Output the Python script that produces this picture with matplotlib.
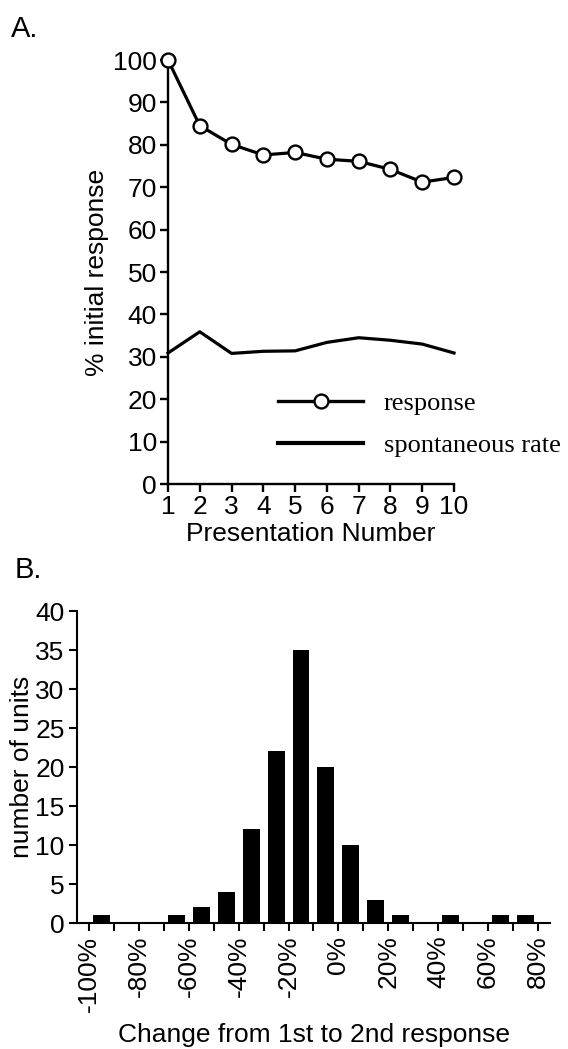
import matplotlib
matplotlib.use("Agg")
import matplotlib.pyplot as plt
import numpy as np
from matplotlib.lines import Line2D

plt.rcParams['font.family'] = ['Liberation Sans', 'DejaVu Sans']
plt.rcParams['font.size'] = 19

# panel A: habituation over presentations
presentation = [1, 2, 3, 4, 5, 6, 7, 8, 9, 10]
response = [100, 84.5, 80.1, 77.6, 78.2, 76.6, 76.1, 74.2, 71.2, 72.3]
spontaneous = [30.9, 35.9, 30.8, 31.3, 31.4, 33.4, 34.5, 33.9, 33.0, 30.9]

# panel B: histogram of change from 1st to 2nd response (10% bins)
bin_left = [-100, -90, -80, -70, -60, -50, -40, -30, -20, -10, 0, 10, 20, 30, 40, 50, 60, 70]
counts = [1, 0, 0, 1, 2, 4, 12, 22, 35, 20, 10, 3, 1, 0, 1, 0, 1, 1]
b_ticks = [-100, -80, -60, -40, -20, 0, 20, 40, 60, 80]
b_tick_labels = ['-100%', '-80%', '-60%', '-40%', '-20%', '0%', '20%', '40%', '60%', '80%']

fig = plt.figure(figsize=(5.68, 10.49), dpi=100)

# ---- A ----
axA = fig.add_axes([0.2958, 0.5386, 0.5035, 0.4042])
axA.plot(presentation, response, color='black', lw=2.3, marker='o', ms=10,
         mfc='white', mec='black', mew=1.7, clip_on=False, zorder=5)
axA.plot(presentation, spontaneous, color='black', lw=2.3, clip_on=False)
axA.set_xlim(1, 10)
axA.set_ylim(0, 100)
axA.set_xticks(presentation)
axA.set_yticks(np.arange(0, 101, 10))
for s in ['top', 'right']:
    axA.spines[s].set_visible(False)
for s in ['left', 'bottom']:
    axA.spines[s].set_linewidth(1.7)
axA.tick_params(direction='out', length=6, width=1.7, pad=2)
axA.set_ylabel('% initial response', labelpad=3)
axA.set_xlabel('Presentation Number', labelpad=2)

handles = [Line2D([], [], color='black', lw=2.4, marker='o', ms=10,
                  mfc='white', mec='black', mew=1.7),
           Line2D([], [], color='black', lw=3)]
axA.legend(handles, ['response', 'spontaneous rate'], loc='center left',
           bbox_to_anchor=(4.47, 14), bbox_transform=axA.transData,
           frameon=False, borderpad=0, borderaxespad=0, handlelength=3.2,
           handletextpad=0.8, labelspacing=0.7, numpoints=1,
           prop={'family': 'Liberation Serif', 'size': 19})

fig.text(0.02, 0.972, 'A.', fontsize=21, va='center', ha='left')

# ---- B ----
axB = fig.add_axes([0.1356, 0.1201, 0.8335, 0.2974])
centers = np.array(bin_left) + 5
axB.bar(centers, counts, width=6.8, color='black')
axB.set_xlim(-104.8, 85)
axB.set_ylim(0, 40)
axB.set_yticks(np.arange(0, 41, 5))
axB.set_xticks(b_ticks)
axB.set_xticklabels(b_tick_labels, rotation=90)
axB.set_xticks(np.arange(-90, 81, 20), minor=True)
for s in ['top', 'right']:
    axB.spines[s].set_visible(False)
for s in ['left', 'bottom']:
    axB.spines[s].set_linewidth(1.5)
axB.tick_params(which='both', direction='out', length=6, width=1.5, pad=3)
axB.set_ylabel('number of units', labelpad=1)
axB.set_xlabel('Change from 1st to 2nd response', labelpad=8)

fig.text(0.025, 0.457, 'B.', fontsize=21, va='center', ha='left')

fig.savefig('out.png', dpi=100)
